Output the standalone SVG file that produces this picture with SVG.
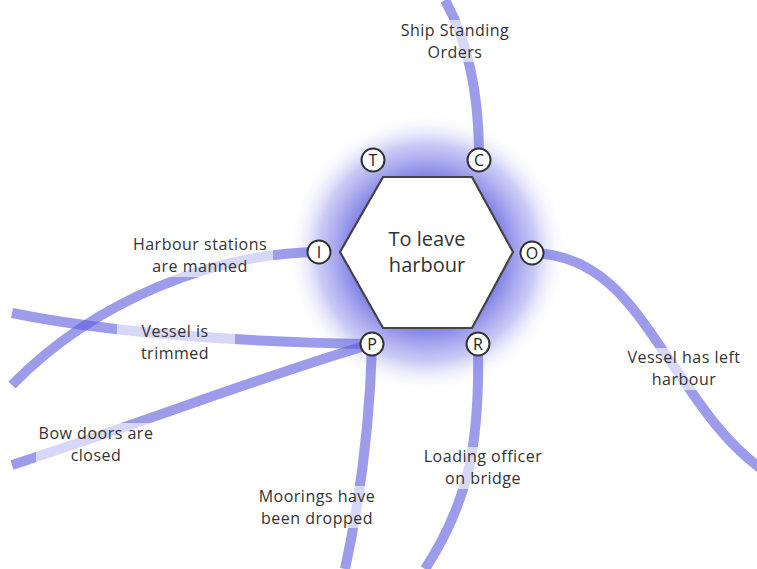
<svg xmlns="http://www.w3.org/2000/svg" width="757" height="569" viewBox="0 0 757 569">
<style>
.line{fill:none;stroke:#5a5adc;stroke-opacity:0.6;stroke-width:10}
.lbl{font-family:"Open Sans","DejaVu Sans",sans-serif;font-size:16px;letter-spacing:0.5px;fill:#333;text-anchor:middle}
.halo{fill:#fff;fill-opacity:0.6}
.port circle{fill:#fff;stroke:#333;stroke-width:2}
.port text{font-family:"Open Sans","DejaVu Sans",sans-serif;font-size:16px;fill:#222;text-anchor:middle}
.hub{fill:#fff;stroke:#444;stroke-width:2.2}
.title{font-family:"Open Sans","DejaVu Sans",sans-serif;font-size:20px;fill:#333;text-anchor:middle}
</style>
<defs>
<radialGradient id="glow" cx="427" cy="253" r="140" gradientUnits="userSpaceOnUse">
<stop offset="0" stop-color="#8080e6" stop-opacity="1"/>
<stop offset="0.55" stop-color="#8484e6" stop-opacity="1"/>
<stop offset="0.78" stop-color="#a0a0ee" stop-opacity="0.55"/>
<stop offset="1" stop-color="#ffffff" stop-opacity="0"/>
</radialGradient>
</defs>
<rect width="757" height="569" fill="#fff"/>
<circle cx="427" cy="253" r="140" fill="url(#glow)"/>
<g id="connectors">
<path class="line" d="M479 150 Q478 60 445 0"/>
<path class="line" d="M532 253 C610 255 640 320 680 375 C710 420 730 445 760 468"/>
<path class="line" d="M319 252 C215 253 95 300 12 385"/>
<path class="line" d="M372 344 C250 342 120 335 12 313"/>
<path class="line" d="M372 344 C280 370 150 420 12 465"/>
<path class="line" d="M372 344 C370 420 360 500 345 569"/>
<path class="line" d="M478 344 C480 440 470 500 425 569"/>
</g>
<g id="hub">
<polygon class="hub" points="383,177 472,177 513,252 472,328 383,328 340,252"/>
<text class="title" x="427" y="246">To leave</text>
<text class="title" x="427" y="272">harbour</text>
</g>
<g id="port-T" class="port"><circle cx="373" cy="160" r="11.5"/><text x="373" y="166">T</text></g>
<g id="port-C" class="port"><circle cx="479" cy="160" r="11.5"/><text x="479" y="166">C</text></g>
<g id="port-I" class="port"><circle cx="319" cy="252" r="11.5"/><text x="319" y="258">I</text></g>
<g id="port-O" class="port"><circle cx="532" cy="253" r="11.5"/><text x="532" y="259">O</text></g>
<g id="port-P" class="port"><circle cx="372" cy="344" r="11.5"/><text x="372" y="350">P</text></g>
<g id="port-R" class="port"><circle cx="478" cy="344" r="11.5"/><text x="478" y="350">R</text></g>
<g id="label-ship">
<rect class="halo" x="392" y="20" width="126" height="42"/>
<text class="lbl" x="455" y="36">Ship Standing</text>
<text class="lbl" x="455" y="58">Orders</text>
</g>
<g id="label-harbour-stations">
<rect class="halo" x="128" y="235" width="145" height="42"/>
<text class="lbl" x="200" y="250">Harbour stations</text>
<text class="lbl" x="200" y="272">are manned</text>
</g>
<g id="label-trimmed">
<rect class="halo" x="117" y="322" width="118" height="42"/>
<text class="lbl" x="175" y="337">Vessel is</text>
<text class="lbl" x="175" y="359">trimmed</text>
</g>
<g id="label-bow">
<rect class="halo" x="36" y="423" width="122" height="42"/>
<text class="lbl" x="96" y="439">Bow doors are</text>
<text class="lbl" x="96" y="461">closed</text>
</g>
<g id="label-moorings">
<rect class="halo" x="250" y="486" width="135" height="42"/>
<text class="lbl" x="317" y="502">Moorings have</text>
<text class="lbl" x="317" y="524">been dropped</text>
</g>
<g id="label-loading">
<rect class="halo" x="418" y="447" width="130" height="42"/>
<text class="lbl" x="483" y="462">Loading officer</text>
<text class="lbl" x="483" y="484">on bridge</text>
</g>
<g id="label-left">
<rect class="halo" x="620" y="348" width="128" height="42"/>
<text class="lbl" x="684" y="363">Vessel has left</text>
<text class="lbl" x="684" y="385">harbour</text>
</g>
</svg>
